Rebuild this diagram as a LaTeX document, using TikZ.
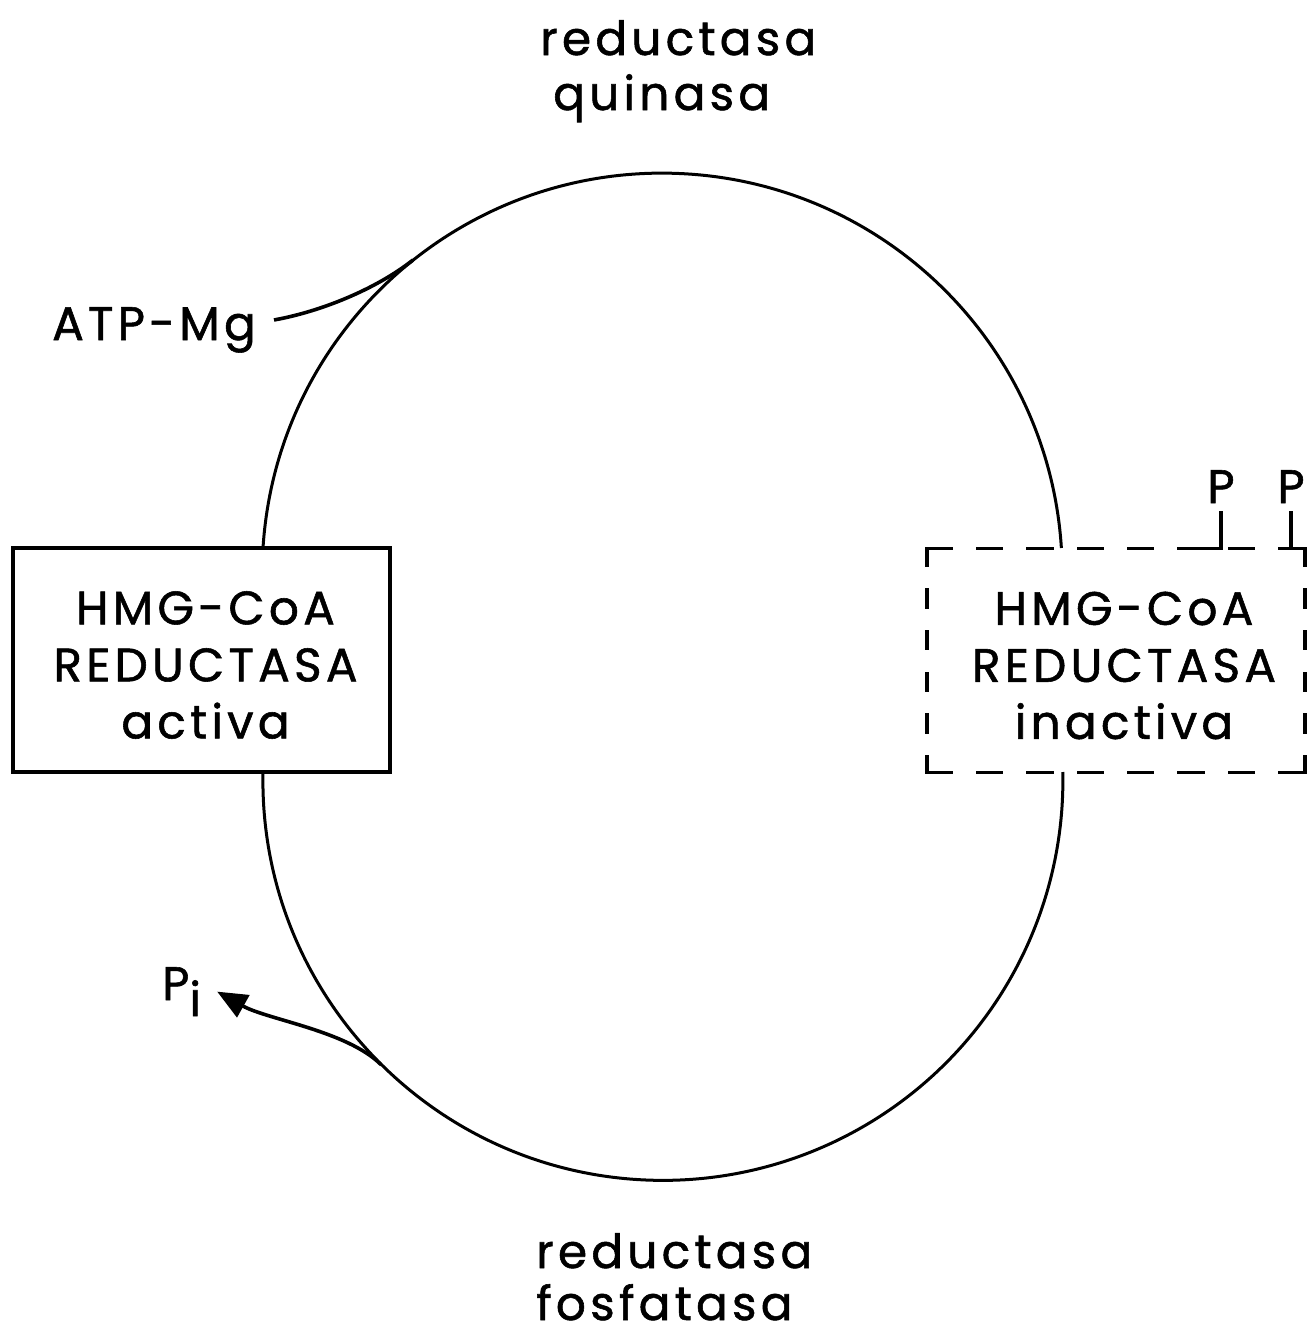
\documentclass[tikz,border=0pt]{standalone}
\usepackage{fontspec}
\setmainfont{Poppins}[LetterSpace=9, FakeBold=1.2]
\usetikzlibrary{arrows.meta}
\begin{document}
\begin{tikzpicture}[x=1pt,y=-1pt,
  txt/.style={font=\fontsize{47}{57}\selectfont, inner sep=0pt},
  boxtxt/.style={txt, align=center},
  frame/.style={minimum width=#1, minimum height=224pt, inner sep=0pt, outer sep=0pt},
  solidbox/.style={frame=377pt, draw, line width=3.6pt},
  hdash/.style={line width=3.4pt, line cap=rect, dash pattern=on 24pt off 26.4pt},
  vdash/.style={line width=3.4pt, line cap=rect, dash pattern=on 17pt off 24.6pt},
  ring/.style={line width=3pt},
  feed/.style={line width=3.6pt},
  tick/.style={line width=3.2pt, line cap=rect}]
\useasboundingbox (0,0) rectangle (1313,1336);

% the two enzyme forms
\node[solidbox] (act) at (201.5,660) {};
\node[boxtxt, yshift=-5pt, xshift=4pt] (acttxt) at (act.center) {HMG-CoA\\REDUCTASA\\activa};
\node[frame=378pt] (inact) at (1116,660.5) {};
\node[boxtxt, yshift=-5pt, xshift=8pt] (inacttxt) at (inact.center) {HMG-CoA\\REDUCTASA\\inactiva};
\draw[hdash] (inact.north west) -- (inact.north east);
\draw[hdash] (inact.south west) -- (inact.south east);
\draw[vdash] (inact.north west) -- (inact.south west);
\draw[vdash] (inact.north east) -- (inact.south east);

% phosphate groups on the inactive form
\node[txt, anchor=base] (p1) at (1221,503) {P};
\node[txt, anchor=base] (p2) at (1291,503) {P};
\draw[tick] ([yshift=-9pt]p1.south) |- ([xshift=-18pt]p1.south |- inact.north);
\draw[tick] ([yshift=-9pt]p2.south) |- (inact.north east);

% the cycle
\coordinate (ctop) at (662,573);
\coordinate (cbot) at (662,780);
\draw[ring] ([xshift=250pt]act.north west) arc[start angle=176.4, end angle=3.6, radius=400pt];
\draw[ring] ([xshift=250pt]act.south west) arc[start angle=178.8, end angle=361.2, radius=400pt];

% enzymes
\node[txt, anchor=base west] (kin1) at (540,55) {reductasa};
\node[txt, anchor=base west] (kin2) at (553,110) {quinasa};
\node[txt, anchor=base west] (fos1) at (536,1268) {reductasa};
\node[txt, anchor=base west] (fos2) at (536,1320) {fosfatasa};

% ATP-Mg enters the kinase step
\node[txt, anchor=base west] (atp) at (52,340) {ATP-Mg};
\coordinate (atpjoin) at ([shift={(128.5:400pt)}]ctop);
\draw[feed] ([shift={(18pt,10pt)}]atp.east) .. controls +(45pt,8pt) and +(-38pt,-30pt) .. (atpjoin);

% Pi leaves the phosphatase step
\node[txt, anchor=base west] (pi) at (162,1000) {P\lower16pt\hbox{i}};
\coordinate (pijoin) at ([shift={(225.4:400pt)}]cbot);
\draw[feed, -{Triangle[length=30pt, width=25pt]}] (pijoin) .. controls +(-34pt,34pt) and +(50pt,-28pt) .. ([shift={(16pt,0pt)}]pi.east);
\end{tikzpicture}
\end{document}
